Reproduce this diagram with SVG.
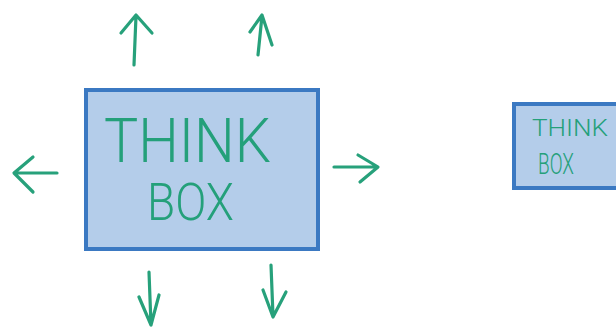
<svg xmlns="http://www.w3.org/2000/svg" width="616" height="327" viewBox="0 0 616 327">
<style>
.box{fill:#b4cdea;stroke:#3b79c2;stroke-width:4}
.lbl{font-family:Roboto,"Open Sans","Liberation Sans",sans-serif;fill:#24a07a;font-weight:300}
.arr{fill:none;stroke:#27a17b;stroke-width:3.2;stroke-linecap:round;stroke-linejoin:round}
</style>
<rect width="616" height="327" fill="#ffffff"/>
<g id="think-box-large">
<rect class="box" x="86" y="90" width="232" height="159"/>
<text class="lbl" x="104" y="162" font-size="62" textLength="167" lengthAdjust="spacingAndGlyphs">THINK</text>
<text class="lbl" x="147" y="220" font-size="51" textLength="87" lengthAdjust="spacingAndGlyphs">BOX</text>
</g>
<g id="think-box-small">
<rect class="box" x="514" y="104" width="110" height="84"/>
<text class="lbl" x="532" y="136" font-size="24" textLength="76" lengthAdjust="spacingAndGlyphs">THINK</text>
<text class="lbl" x="538" y="174" font-size="30" textLength="36" lengthAdjust="spacingAndGlyphs">BOX</text>
</g>
<g id="connectors">
<path class="arr" d="M134 65 L136 16 M121 33 L136 15 L152 33"/>
<path class="arr" d="M258 55 L262 16 M250 32 L262 15 L272 45"/>
<path class="arr" d="M57 173 L15 173 M33 157 L14 173 L33 192"/>
<path class="arr" d="M334 167 L377 167 M358 155 L378 167 L360 182"/>
<path class="arr" d="M149 272 L151 325 M139 297 L151 325 L159 295"/>
<path class="arr" d="M271 265 L273 316 M263 290 L273 317 L286 292"/>
</g>
</svg>
